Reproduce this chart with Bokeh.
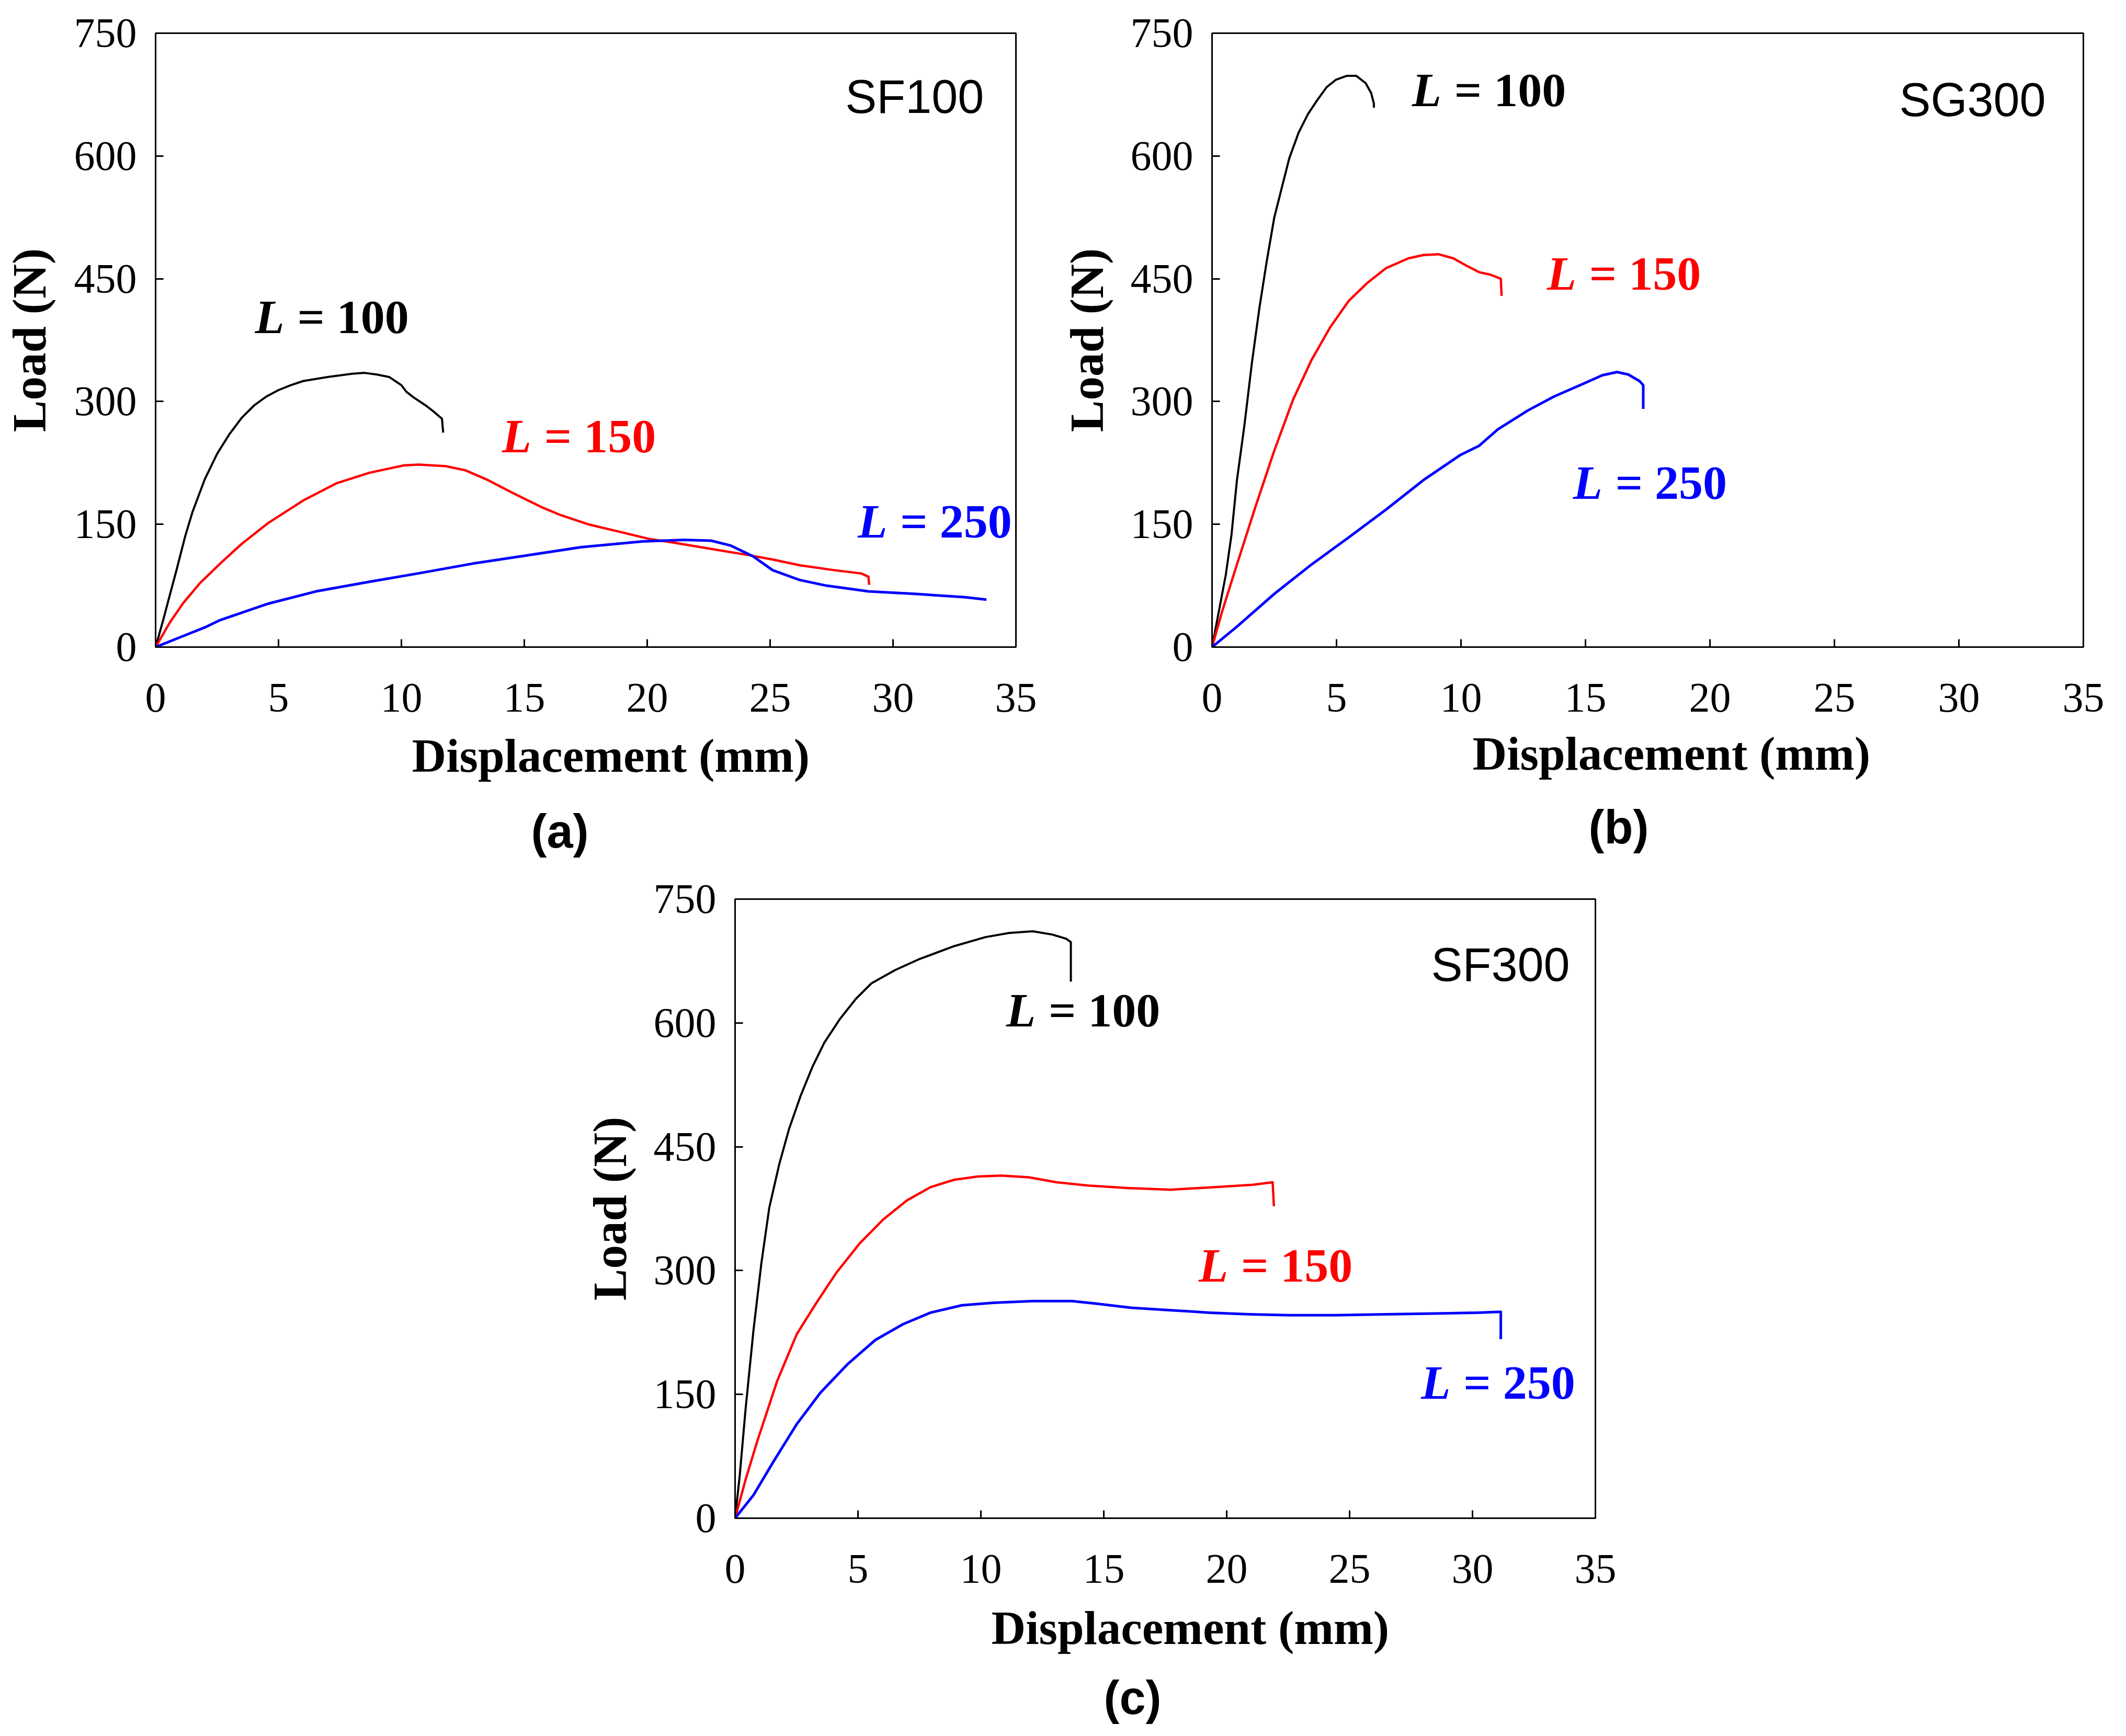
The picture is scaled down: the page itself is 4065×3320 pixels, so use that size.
from bokeh.embed import file_html
from bokeh.layouts import column, row
from bokeh.models import FixedTicker, Label, Range1d, Spacer, Title
from bokeh.plotting import figure
from bokeh.resources import INLINE

x_ticks = [0, 5, 10, 15, 20, 25, 30, 35]
y_ticks = [0, 150, 300, 450, 600, 750]

# (a) SF100
a100_x = [0, 0.3, 0.6, 0.85, 1.2, 1.5, 2, 2.5, 3, 3.5, 4, 4.5, 5, 5.5, 6, 7, 8, 8.5, 9, 9.5, 10, 10.2, 10.5, 11, 11.3, 11.65, 11.7]
a100_y = [0, 32, 66, 94, 135, 165, 205, 236, 260, 280, 295, 306, 314, 320, 325, 330, 334, 335, 333, 330, 320, 312, 305, 295, 288, 279, 262]
a150_x = [0, 0.6, 1.13, 1.8, 2.7, 3.5, 4.6, 6.0, 7.35, 8.7, 10.1, 10.7, 11.8, 12.6, 13.45, 14.55, 15.7, 16.5, 17.6, 19.0, 20.1, 21.2, 22.6, 24.0, 25.1, 26.2, 27.6, 28.7, 29.0, 29.03]
a150_y = [0, 31, 54, 78, 104, 126, 152, 179, 200, 213, 222, 223, 221, 216, 205, 188, 171, 161, 150, 140, 132, 127, 120, 113, 107, 100, 94, 90, 86, 76]
a250_x = [0, 1.25, 2.0, 2.63, 4.58, 6.52, 8.74, 10.68, 12.9, 15.1, 17.3, 19.8, 21.5, 22.6, 23.4, 24.3, 25.1, 26.2, 27.3, 29.0, 30.9, 32.9, 33.8]
a250_y = [0, 15, 24, 33, 53, 68, 80, 90, 102, 112, 122, 129, 131, 130, 124, 111, 94, 82, 75, 68, 65, 61, 58]

# (b) SG300
b100_x = [0, 0.55, 0.78, 1.0, 1.3, 1.6, 1.9, 2.2, 2.5, 2.8, 3.1, 3.47, 3.85, 4.22, 4.6, 4.97, 5.42, 5.79, 6.17, 6.39, 6.5, 6.5]
b100_y = [0, 88, 137, 204, 271, 347, 414, 472, 525, 561, 597, 628, 651, 668, 684, 693, 698, 698, 689, 677, 664, 659]
b150_x = [0, 0.4, 1.0, 1.75, 2.5, 3.25, 4.0, 4.75, 5.49, 6.24, 6.99, 7.89, 8.49, 9.09, 9.69, 10.28, 10.73, 11.18, 11.6, 11.63]
b150_y = [0, 43, 101, 172, 240, 302, 351, 391, 423, 445, 463, 475, 479, 480, 475, 465, 458, 455, 450, 429]
b250_x = [0, 1.0, 2.5, 4.0, 5.49, 6.99, 8.49, 9.99, 10.73, 11.48, 12.68, 13.73, 14.93, 15.67, 16.27, 16.72, 17.17, 17.32, 17.32]
b250_y = [0, 25, 65, 101, 134, 168, 204, 235, 246, 266, 289, 306, 322, 332, 336, 333, 325, 320, 291]

# (c) SF300
c100_x = [0, 0.19, 0.43, 0.75, 1.07, 1.39, 1.79, 2.19, 2.67, 3.15, 3.63, 4.27, 4.91, 5.55, 6.51, 7.47, 8.91, 10.19, 11.15, 12.11, 12.91, 13.47, 13.66, 13.66]
c100_y = [0, 52, 133, 228, 309, 376, 428, 471, 512, 547, 576, 605, 629, 648, 664, 677, 693, 704, 709, 711, 707, 702, 698, 650]
c150_x = [0, 0.43, 0.91, 1.71, 2.51, 3.31, 4.11, 5.07, 6.03, 6.99, 7.95, 8.91, 9.87, 10.83, 11.95, 13.07, 14.35, 15.95, 17.71, 19.47, 21.07, 21.87, 21.92]
c150_y = [0, 47, 94, 166, 223, 261, 297, 333, 362, 385, 401, 410, 414, 415, 413, 407, 403, 400, 398, 401, 404, 407, 378]
c250_x = [0, 0.75, 1.55, 2.51, 3.47, 4.59, 5.71, 6.83, 7.95, 9.23, 10.51, 12.11, 13.71, 14.67, 16.11, 17.71, 19.31, 20.91, 22.51, 24.4, 26.5, 28.5, 30.2, 31.15, 31.15]
c250_y = [0, 28, 68, 114, 152, 187, 216, 235, 249, 258, 261, 263, 263, 260, 255, 252, 249, 247, 246, 246, 247, 248, 249, 250, 217]

serif = "Liberation Serif"
sans = "Liberation Sans"
nudge = 23  # svg baseline sits a bit low


def make_panel(width, height, left, right, top, bottom, ylab_standoff):
    p = figure(width=width, height=height, x_range=Range1d(0, 35), y_range=Range1d(0, 750),
               output_backend="svg", toolbar_location=None, tools="",
               min_border_left=left, min_border_right=right,
               min_border_top=top, min_border_bottom=bottom)
    p.grid.visible = False
    p.background_fill_color = "white"
    p.border_fill_color = "white"
    p.outline_line_color = "black"
    p.outline_line_width = 3
    p.xaxis.ticker = FixedTicker(ticks=x_ticks)
    p.yaxis.ticker = FixedTicker(ticks=y_ticks)
    for ax in (p.xaxis, p.yaxis):
        ax.axis_line_width = 3
        ax.axis_line_color = "black"
        ax.major_tick_in = 15
        ax.major_tick_out = 0
        ax.major_tick_line_width = 3
        ax.minor_tick_line_color = None
        ax.major_label_text_font = serif
        ax.major_label_text_font_size = "80px"
        ax.major_label_text_color = "black"
    p.xaxis.major_label_standoff = 70
    p.yaxis.major_label_standoff = 36
    p.yaxis.axis_label = "Load (N)"
    p.yaxis.axis_label_text_font = serif
    p.yaxis.axis_label_text_font_style = "bold"
    p.yaxis.axis_label_text_font_size = "91px"
    p.yaxis.axis_label_text_color = "black"
    p.yaxis.axis_label_standoff = ylab_standoff
    return p


def below_texts(p, disp_left, disp_standoff, tag, tag_left, tag_standoff):
    p.add_layout(Title(text="Displacement (mm)", align="left", offset=disp_left,
                       standoff=disp_standoff, text_font=serif, text_font_style="bold",
                       text_font_size="91px", text_color="black"), "below")
    p.add_layout(Title(text=tag, align="left", offset=tag_left, standoff=tag_standoff,
                       text_font=sans, text_font_style="bold", text_font_size="90px",
                       text_color="black"), "below")


def case_label(p, x, y, num, color):
    p.add_layout(Label(x=x, y=y, y_offset=nudge, text="L", text_font=serif,
                       text_font_style="bold italic", text_font_size="92px",
                       text_color=color, text_baseline="alphabetic"))
    p.add_layout(Label(x=x, y=y, x_offset=81, y_offset=nudge, text="= " + num, text_font=serif,
                       text_font_style="bold", text_font_size="92px", text_color=color,
                       text_baseline="alphabetic"))


def specimen(p, x, y, name):
    p.add_layout(Label(x=x, y=y, y_offset=nudge, text=name, text_font=sans,
                       text_font_size="90px", text_color="black",
                       text_align="right", text_baseline="alphabetic"))


def curves(p, xs, ys):
    for x, y, c, w in zip(xs, ys, ["black", "red", "blue"], [4, 4.5, 5]):
        p.line(x, y, line_color=c, line_width=w, line_join="round")


pa = make_panel(2022, 1652, 297, 80, 63, 412, 32)
curves(pa, [a100_x, a150_x, a250_x], [a100_y, a150_y, a250_y])
case_label(pa, 4.04, 389, "100", "black")
case_label(pa, 14.09, 243, "150", "red")
case_label(pa, 28.57, 139, "250", "blue")
specimen(pa, 33.7, 658, "SF100")
below_texts(pa, 490, 59, "(a)", 718, 25)

pb = make_panel(2023, 1652, 295, 62, 54, 398, 30)
curves(pb, [b100_x, b150_x, b250_x], [b100_y, b150_y, b250_y])
case_label(pb, 8.03, 666, "100", "black")
case_label(pb, 13.45, 442, "150", "red")
case_label(pb, 14.5, 186, "250", "blue")
specimen(pb, 33.49, 654, "SG300")
below_texts(pb, 498, 50, "(b)", 720, 27)

pc = make_panel(2050, 1652, 305, 100, 67, 401, 30)
curves(pc, [c100_x, c150_x, c250_x], [c100_y, c150_y, c250_y])
case_label(pc, 11.03, 601, "100", "black")
case_label(pc, 18.86, 292, "150", "red")
case_label(pc, 27.91, 150, "250", "blue")
specimen(pc, 33.96, 656, "SF300")
below_texts(pc, 490, 62, "(c)", 705, 0)

layout = column(row(pa, pb), row(Spacer(width=1100, height=1652), pc))

open("out.html", "w").write(file_html(layout, INLINE))
